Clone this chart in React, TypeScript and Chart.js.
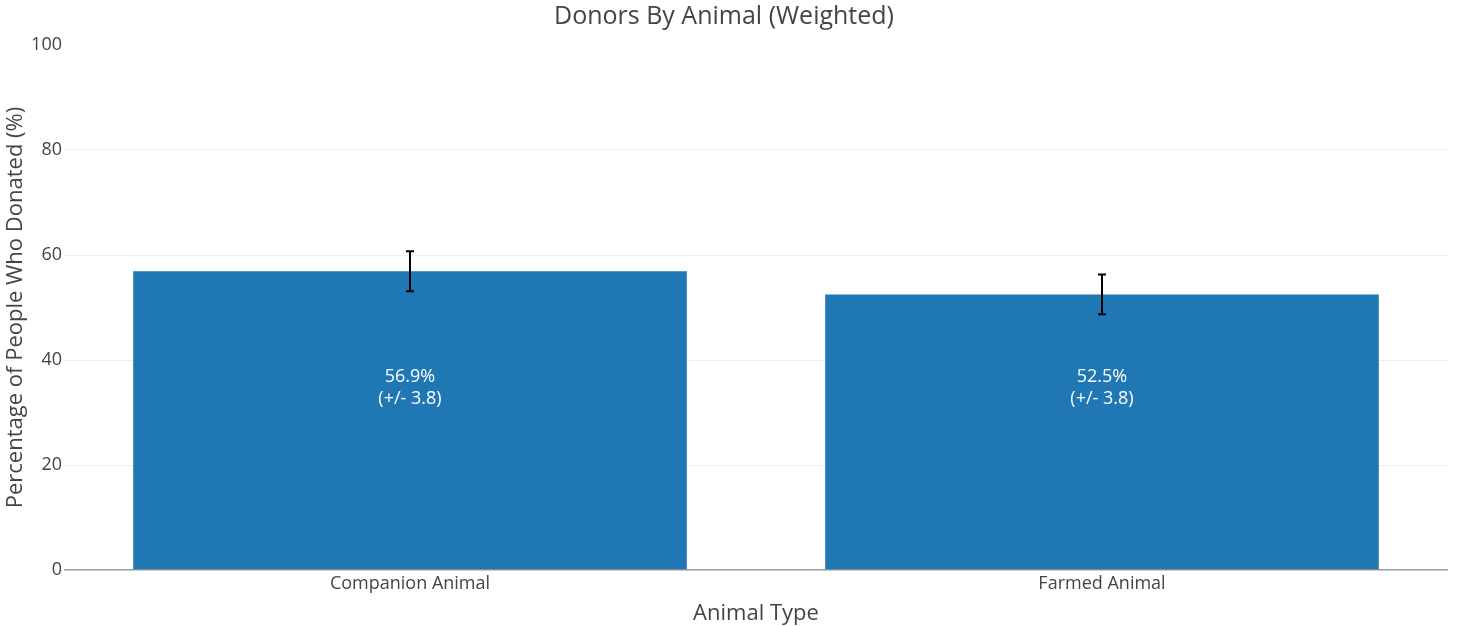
import { useEffect, useRef } from "react";
import { Chart, registerables } from "chart.js";

Chart.register(...registerables);

const categories = ["Companion Animal", "Farmed Animal"];
const donated = [56.9, 52.5];
const errors = [3.8, 3.8];
const yTicks = [0, 20, 40, 60, 80, 100];
// height (in data units) at which plotly put the inside text
const labelLevel = 35;

const FONT = "'Open Sans', sans-serif";
const TEXT = "#444";

// error bars + inside labels, drawn from the same arrays
const overlay = {
    id: "overlay",
    afterDatasetsDraw(chart: any) {
        const { ctx } = chart;
        const x = chart.scales.x;
        const y = chart.scales.y;
        ctx.save();
        donated.forEach((v, i) => {
            const cx = x.getPixelForValue(i);
            const top = y.getPixelForValue(v + errors[i]);
            const bottom = y.getPixelForValue(v - errors[i]);
            ctx.strokeStyle = "#000";
            ctx.lineWidth = 2;
            ctx.beginPath();
            ctx.moveTo(cx, top);
            ctx.lineTo(cx, bottom);
            ctx.moveTo(cx - 4, top);
            ctx.lineTo(cx + 4, top);
            ctx.moveTo(cx - 4, bottom);
            ctx.lineTo(cx + 4, bottom);
            ctx.stroke();

            const ly = y.getPixelForValue(labelLevel);
            ctx.fillStyle = "#fff";
            ctx.font = `18px ${FONT}`;
            ctx.textAlign = "center";
            ctx.textBaseline = "middle";
            ctx.fillText(`${v.toFixed(1)}%`, cx, ly - 9);
            ctx.fillText(`(+/- ${errors[i].toFixed(1)})`, cx, ly + 13);
        });
        ctx.restore();
    },
};

export default function App() {
    const chartRef = useRef<HTMLCanvasElement | null>(null);

    useEffect(() => {
        document.body.style.margin = "0";
        if (!chartRef.current) return;
        const myChart = new Chart(chartRef.current, {
            type: "bar",
            data: {
                labels: categories,
                datasets: [
                    {
                        label: "Donated",
                        data: donated,
                        backgroundColor: "#1f77b4",
                        barPercentage: 0.8,
                        categoryPercentage: 1,
                    },
                ],
            },
            plugins: [overlay],
            options: {
                animation: false,
                responsive: false,
                layout: { padding: { right: 11, top: 0 } },
                plugins: {
                    legend: { display: false },
                    tooltip: { enabled: false },
                    title: {
                        display: true,
                        text: "Donors By Animal (Weighted)",
                        color: TEXT,
                        font: { family: FONT, size: 25, weight: "normal" },
                        padding: { top: 2, bottom: 13 },
                    },
                },
                scales: {
                    x: {
                        grid: { display: false, drawTicks: false },
                        border: { display: false },
                        ticks: { color: TEXT, font: { family: FONT, size: 18 }, padding: 3 },
                        title: {
                            display: true,
                            text: "Animal Type",
                            color: TEXT,
                            font: { family: FONT, size: 22 },
                            padding: { top: 4, bottom: -1 },
                        },
                        afterFit: (s: any) => {
                            s.height = 56;
                        },
                    },
                    y: {
                        min: 0,
                        max: 100,
                        afterBuildTicks: (s: any) => {
                            s.ticks = yTicks.map((v) => ({ value: v }));
                        },
                        grid: {
                            drawTicks: false,
                            lineWidth: (c: any) => (c.tick && c.tick.value === 0 ? 1.5 : 1),
                            color: (c: any) =>
                                c.tick && c.tick.value === 0
                                    ? "#999"
                                    : c.tick && c.tick.value === 100
                                      ? "rgba(0,0,0,0)"
                                      : "#eee",
                        },
                        border: { display: false },
                        ticks: { color: TEXT, font: { family: FONT, size: 18 }, padding: 2 },
                        title: {
                            display: true,
                            text: "Percentage of People Who Donated (%)",
                            color: TEXT,
                            font: { family: FONT, size: 22 },
                            padding: { top: 3, bottom: 2 },
                        },
                        afterFit: (s: any) => {
                            s.width = 64;
                        },
                    },
                },
            },
        });
        return () => {
            myChart.destroy();
        };
    }, []);

    return (
        <div style={{ width: 1459, height: 626, background: "#fff" }}>
            <canvas ref={chartRef} width={1459} height={626}></canvas>
        </div>
    );
}
